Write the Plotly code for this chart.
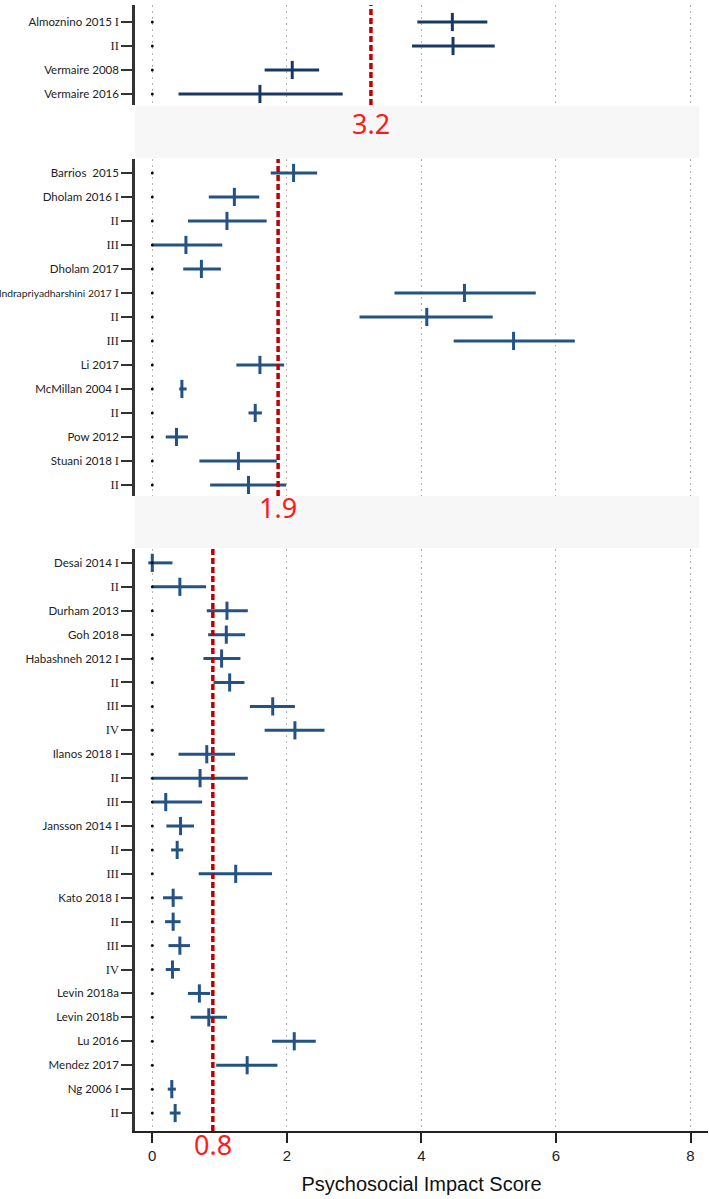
import plotly.graph_objects as go

# panel 1
p1_labels = ["Almoznino 2015 I", "II", "Vermaire 2008", "Vermaire 2016"]
p1_mean = [4.46, 4.47, 2.08, 1.60]
p1_low = [3.94, 3.86, 1.67, 0.39]
p1_high = [4.98, 5.09, 2.48, 2.83]

# panel 2
p2_labels = ["Barrios\u00a0 2015", "Dholam 2016 I", "II", "III", "Dholam 2017",
             "Indrapriyadharshini 2017 I", "II", "III", "Li 2017", "McMillan 2004 I",
             "II", "Pow 2012", "Stuani 2018 I", "II"]
p2_mean = [2.10, 1.22, 1.11, 0.50, 0.73, 4.64, 4.08, 5.37, 1.60, 0.44, 1.53, 0.36, 1.28, 1.43]
p2_low = [1.76, 0.84, 0.53, 0.00, 0.46, 3.60, 3.08, 4.48, 1.25, 0.40, 1.43, 0.20, 0.70, 0.86]
p2_high = [2.45, 1.59, 1.70, 1.04, 1.02, 5.70, 5.06, 6.28, 1.96, 0.51, 1.63, 0.53, 1.85, 1.99]

# panel 3
p3_labels = ["Desai 2014 I", "II", "Durham 2013", "Goh 2018", "Habashneh 2012 I", "II",
             "III", "IV", "Ilanos 2018 I", "II", "III", "Jansson 2014 I", "II", "III",
             "Kato 2018 I", "II", "III", "IV", "Levin 2018a", "Levin 2018b", "Lu 2016",
             "Mendez 2017", "Ng 2006 I", "II"]
p3_mean = [0.00, 0.41, 1.11, 1.10, 1.03, 1.15, 1.79, 2.12, 0.81, 0.71, 0.20, 0.42, 0.37, 1.24,
           0.31, 0.31, 0.41, 0.30, 0.70, 0.84, 2.11, 1.41, 0.29, 0.34]
p3_low = [-0.06, 0.00, 0.81, 0.83, 0.76, 0.91, 1.45, 1.67, 0.39, 0.00, 0.00, 0.21, 0.28, 0.69,
          0.16, 0.19, 0.24, 0.20, 0.53, 0.57, 1.78, 0.95, 0.23, 0.26]
p3_high = [0.30, 0.80, 1.42, 1.38, 1.31, 1.37, 2.12, 2.56, 1.23, 1.42, 0.74, 0.62, 0.46, 1.78,
           0.45, 0.42, 0.56, 0.41, 0.86, 1.11, 2.43, 1.86, 0.35, 0.42]

# red reference lines (drawn position) and their printed labels
ref_pos = [3.25, 1.87, 0.90]
ref_text = ["3.2", "1.9", "0.8"]

x_ticks = [0, 2, 4, 6, 8]

W, H = 709, 1199
T, B = 5, 68
PH = H - T - B


def py(p):
    return 1 - (p - T) / PH


ROMAN = {"I", "II", "III", "IV"}


def fmt(lbl):
    parts = lbl.split(" ")
    if parts[-1] in ROMAN:
        head = " ".join(parts[:-1])
        rn = "<span style='font-family:Liberation Serif;font-size:12.5px'>%s</span>" % parts[-1]
        if len(head) > 20:
            # the one very long name is squeezed a bit so it stays inside the page
            head = "<span style='font-size:10.3px'>%s</span>" % head
        return (head + " " + rn) if head else rn
    return lbl


panels = [
    (p1_labels, p1_mean, p1_low, p1_high, (5, 105), 0.71, 0.46, "#183963"),
    (p2_labels, p2_mean, p2_low, p2_high, (159, 496), 0.58, 0.46, "#235283"),
    (p3_labels, p3_mean, p3_low, p3_high, (549, 1131), 0.58, 0.75, "#235283"),
]

fig = go.Figure()
layout = {}
for i, (labels, mean, low, high, (top, bot), pad_t, pad_b, col) in enumerate(panels, start=1):
    xa = "x" if i == 1 else "x%d" % i
    ya = "y" if i == 1 else "y%d" % i
    idx = list(range(len(labels)))
    fig.add_trace(go.Scatter(
        x=mean, y=idx, xaxis=xa, yaxis=ya, mode="markers",
        marker=dict(symbol="line-ns", size=13, line=dict(width=3, color=col)),
        error_x=dict(type="data", symmetric=False,
                     array=[h - m for h, m in zip(high, mean)],
                     arrayminus=[m - l for m, l in zip(mean, low)],
                     color=col, thickness=3, width=0),
        showlegend=False, hoverinfo="skip",
    ))
    fig.add_trace(go.Scatter(
        x=[0] * len(labels), y=idx, xaxis=xa, yaxis=ya, mode="markers",
        marker=dict(size=3, color="#111"), showlegend=False, hoverinfo="skip",
    ))
    axkey = "xaxis" if i == 1 else "xaxis%d" % i
    aykey = "yaxis" if i == 1 else "yaxis%d" % i
    layout[axkey] = dict(
        domain=[0, 1], anchor=ya, range=[-0.257, 8.26], tickvals=x_ticks,
        showgrid=True, gridcolor="#b5b5b5", gridwidth=1, griddash="2px,4px",
        zeroline=False, showticklabels=(i == 3), automargin=False,
        showline=(i == 3), linecolor="#222", linewidth=1.5,
        ticks="outside" if i == 3 else "", ticklen=10, tickwidth=2, tickcolor="#222",
        tickfont=dict(family="Liberation Sans", size=15, color="#222"),
    )
    if i > 1:
        layout[axkey]["matches"] = "x"
    layout[aykey] = dict(
        domain=[py(bot), py(top)], anchor=xa, automargin=False,
        range=[len(labels) - 1 + pad_b, -pad_t],
        tickvals=idx, ticktext=[fmt(l) for l in labels],
        showgrid=False, zeroline=False,
        showline=True, linecolor="#333", linewidth=2.5,
        ticks="outside", ticklen=11, tickwidth=2, tickcolor="#333",
        tickfont=dict(family="Lato", size=11.5, color="#222"),
    )

layout["xaxis3"]["title"] = dict(text="Psychosocial Impact Score",
                                  font=dict(family="Liberation Sans", size=20, color="#111"),
                                  standoff=14)

fig.update_layout(
    width=W, height=H, margin=dict(l=135, r=1, t=T, b=B),
    plot_bgcolor="white", paper_bgcolor="white", **layout,
)

# grey separator bands
band_right = (699 - 135) / (708 - 135)
for (a, b) in [(106, 158), (496, 548)]:
    fig.add_shape(type="rect", xref="paper", yref="paper", x0=0, x1=band_right,
                  y0=py(b), y1=py(a), fillcolor="#f7f7f7", line=dict(width=0), layer="above")

# red dashed lines and labels
label_y = [123, 508, 1144]
for i, (v, t, ly) in enumerate(zip(ref_pos, ref_text, label_y), start=1):
    xa = "x" if i == 1 else "x%d" % i
    ya = "y" if i == 1 else "y%d" % i
    fig.add_shape(type="line", xref=xa, yref=ya + " domain", x0=v, x1=v, y0=0, y1=1,
                  line=dict(color="#c00000", width=3.5, dash="6px,3px"), layer="above")
    fig.add_annotation(x=v, xref="x", y=py(ly), yref="paper", text=t, showarrow=False,
                       xanchor="center", yanchor="middle",
                       font=dict(family="Noto Sans", size=27, color="#ff1a1a"))

# page body has a default 8px margin; drop it so the figure sits at the window corner
fig.write_html("out.html", config={"displayModeBar": False},
               post_script="document.body.style.margin='0';")
